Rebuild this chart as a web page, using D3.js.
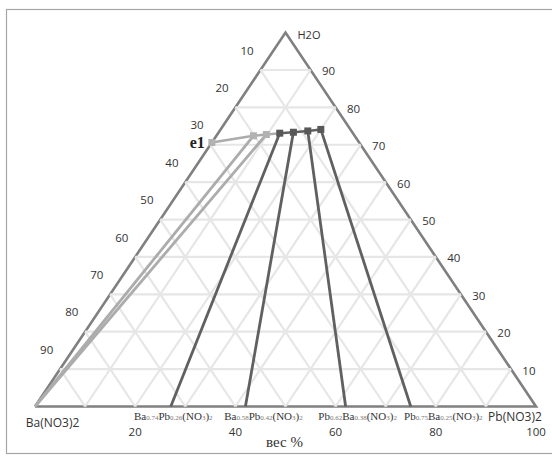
<!DOCTYPE html>
<html><head><meta charset="utf-8">
<script src="https://cdn.jsdelivr.net/npm/d3@7/dist/d3.min.js"></script>
<style>html,body{margin:0;padding:0;background:#fff;}</style>
</head><body>
<svg id="chart" width="552" height="456"></svg>
<script>
// ---- data (percent by weight) ----
const gridTicks = [10, 20, 30, 40, 50, 60, 70, 80, 90];
const leftTickLabels = ["90", "80", "70", "60", "50", "40", "30", "20", "10"]; // at H2O = 10..90
const rightTickLabels = ["10", "20", "30", "40", "50", "60", "70", "80", "90"]; // at H2O = 10..90
const bottomTicks = [20, 40, 60, 80, 100];
// solubility curve points: Pb(NO3)2 %, H2O %
const curveNames = ["e1", "L2", "L3", "D1", "D2", "D3", "D4"];
const curvePb = [0, 7.4, 9.8, 12.3, 14.9, 17.6, 20.0];
const curveH2O = [70.6, 72.4, 72.75, 73.1, 73.35, 73.7, 74.1];
const curveTone = ["light", "light", "light", "dark", "dark", "dark", "dark"];
// tie lines: liquid point index -> solid phase Pb(NO3)2 % on the base
const tieFrom = [1, 2, 3, 4, 5, 6];
const tieSolidPb = [0, 0, 27.1, 42, 62, 75];
// solid phase labels on the base
const solidLabels = [
  [["Ba", ""], ["0.74", "s"], ["Pb", ""], ["0.26", "s"], ["(NO", ""], ["3", "s"], [")", ""], ["2", "s"]],
  [["Ba", ""], ["0.58", "s"], ["Pb", ""], ["0.42", "s"], ["(NO", ""], ["3", "s"], [")", ""], ["2", "s"]],
  [["Pb", ""], ["0.62", "s"], ["Ba", ""], ["0.38", "s"], ["(NO", ""], ["3", "s"], [")", ""], ["2", "s"]],
  [["Pb", ""], ["0.75", "s"], ["Ba", ""], ["0.25", "s"], ["(NO", ""], ["3", "s"], [")", ""], ["2", "s"]]
];
const solidLabelAt = [27.6, 45.6, 64.4, 81.5];
const vertexLabels = ["Ba(NO3)2", "Pb(NO3)2", "H2O"];
const axisTitle = "вес %";

// ---- layout ----
const svg = d3.select("#chart");
const xS = d3.scaleLinear().domain([0, 100]).range([35, 536]);
const yS = d3.scaleLinear().domain([0, 100]).range([406.5, 32.6]);
const pt = (pb, h) => [xS(pb + h / 2), yS(h)];
const numFont = "'Open Sans', 'DejaVu Sans', sans-serif";

svg.append("rect").attr("x", 6.5).attr("y", 9.5).attr("width", 560).attr("height", 444)
  .attr("fill", "none").attr("stroke", "#a6a6a6").attr("stroke-width", 1.2);

// triangle edges
const A = pt(0, 0), B = pt(100, 0), C = pt(0, 100);
svg.append("path").attr("d", d3.line()([A, B, C, A]))
  .attr("fill", "none").attr("stroke", "#808080").attr("stroke-width", 2.6).attr("stroke-linejoin", "miter");

// grid lines
const g = svg.append("g").attr("stroke", "#e6e6e6").attr("stroke-width", 2.2).attr("fill", "none");
gridTicks.forEach(t => {
  g.append("path").attr("d", d3.line()([pt(0, t), pt(100 - t, t)]));
  g.append("path").attr("d", d3.line()([pt(t, 0), pt(t, 100 - t)]));
  g.append("path").attr("d", d3.line()([pt(100 - t, 0), pt(0, 100 - t)]));
});

// tick labels
const ux = -(B[0] - C[0]), uy = -(B[1] - C[1]);
const ul = Math.hypot(ux, uy);
gridTicks.forEach((t, i) => {
  const L = pt(0, t);
  svg.append("text").attr("x", L[0] + ux / ul * 24).attr("y", L[1] + uy / ul * 24)
    .attr("text-anchor", "middle").attr("dominant-baseline", "central")
    .attr("font-family", numFont).attr("font-size", 11.5).attr("fill", "#333").text(leftTickLabels[i]);
  const R = pt(100 - t, t);
  svg.append("text").attr("x", R[0] + 18).attr("y", R[1] + 1)
    .attr("text-anchor", "middle").attr("dominant-baseline", "central")
    .attr("font-family", numFont).attr("font-size", 11.5).attr("fill", "#333").text(rightTickLabels[i]);
});
bottomTicks.forEach(t => {
  svg.append("text").attr("x", xS(t)).attr("y", 431)
    .attr("text-anchor", "middle").attr("dominant-baseline", "central")
    .attr("font-family", numFont).attr("font-size", 11.5).attr("fill", "#333").text(t);
});

// tie lines
tieFrom.forEach((k, i) => {
  const tone = curveTone[k];
  svg.append("path").attr("d", d3.line()([pt(tieSolidPb[i], 0), pt(curvePb[k], curveH2O[k])]))
    .attr("fill", "none").attr("stroke", tone === "light" ? "#acacac" : "#606060").attr("stroke-width", 2.8);
});

// solubility curve
const cpts = curvePb.map((p, i) => pt(p, curveH2O[i]));
for (let i = 0; i < cpts.length - 1; i++) {
  const dark = curveTone[i] === "dark" && curveTone[i + 1] === "dark";
  svg.append("path").attr("d", d3.line()([cpts[i], cpts[i + 1]]))
    .attr("fill", "none").attr("stroke", dark ? "#606060" : "#acacac").attr("stroke-width", 2.6);
}
cpts.forEach((c, i) => {
  const s = 7;
  svg.append("rect").attr("x", c[0] - s / 2).attr("y", c[1] - s / 2).attr("width", s).attr("height", s)
    .attr("fill", curveTone[i] === "light" ? "#b2b2b2" : "#585858");
});

// e1 label
const e1 = cpts[0];
svg.append("text").attr("x", e1[0] - 7).attr("y", e1[1] + 5).attr("text-anchor", "end")
  .attr("font-family", "'Liberation Serif', serif").attr("font-weight", "bold").attr("font-size", 16)
  .attr("fill", "#222").text(curveNames[0]);

// vertex labels
svg.append("text").attr("x", xS(3.5)).attr("y", 422).attr("text-anchor", "middle").attr("dominant-baseline", "central")
  .attr("font-family", numFont).attr("font-size", 12).attr("fill", "#333").text(vertexLabels[0]);
svg.append("text").attr("x", xS(95.8)).attr("y", 416).attr("text-anchor", "middle").attr("dominant-baseline", "central")
  .attr("font-family", numFont).attr("font-size", 12).attr("fill", "#333").text(vertexLabels[1]);
svg.append("text").attr("x", C[0] + 12).attr("y", C[1] + 2).attr("text-anchor", "start").attr("dominant-baseline", "central")
  .attr("font-family", numFont).attr("font-size", 11).attr("fill", "#333").text(vertexLabels[2]);

// solid phase labels
solidLabels.forEach((parts, i) => {
  const t = svg.append("text").attr("x", xS(solidLabelAt[i])).attr("y", 420).attr("text-anchor", "middle")
    .attr("font-family", "'Liberation Serif', serif").attr("fill", "#333");
  parts.forEach(([s, k]) => {
    t.append("tspan").attr("font-size", k === "s" ? 7 : 11).attr("fill", k === "s" ? "#777" : "#333").text(s);
  });
});

// axis title
svg.append("text").attr("x", xS(49.8)).attr("y", 447).attr("text-anchor", "middle")
  .attr("font-family", "'Liberation Serif', 'DejaVu Serif', serif").attr("font-size", 15).attr("fill", "#333").text(axisTitle);
</script>
</body></html>
